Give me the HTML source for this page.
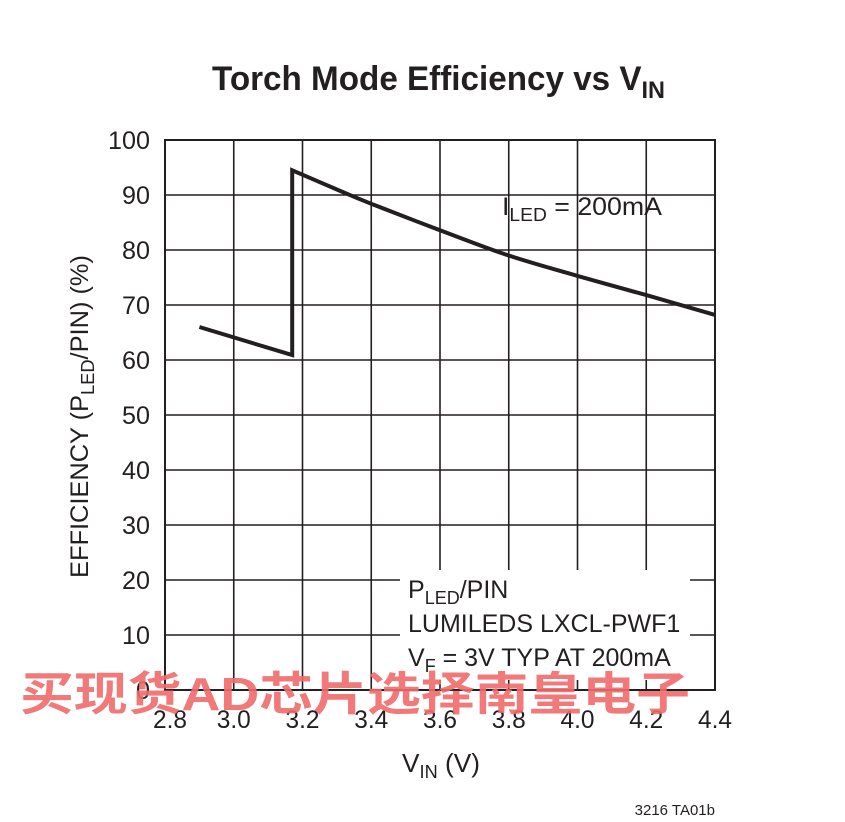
<!DOCTYPE html>
<html><head><meta charset="utf-8"><style>
html,body{margin:0;padding:0;background:#fff;}
svg{display:block;font-family:"Liberation Sans Narrow","Liberation Sans",sans-serif;}
</style></head><body>
<svg id="chart" width="845" height="822" viewBox="0 0 845 822">
<text x="212" y="90" font-size="34" font-weight="bold" fill="#231f20" textLength="453" lengthAdjust="spacingAndGlyphs">Torch Mode Efficiency vs V<tspan font-size="24" dy="8">IN</tspan></text>
<g id="grid"></g>
<rect x="400" y="570" width="290" height="110" fill="#fff"/>
<g id="ticks"></g>
<rect x="165" y="140" width="550" height="550" fill="none" stroke="#231f20" stroke-width="2"/>
<path id="series" fill="none" stroke="#231f20" stroke-width="4" stroke-linejoin="miter"/>
<text x="502" y="215" font-size="25" fill="#231f20" textLength="160" lengthAdjust="spacingAndGlyphs">I<tspan font-size="18" dy="6">LED</tspan><tspan dy="-6"> = 200mA</tspan></text>
<text x="408" y="598" font-size="25" fill="#231f20">P<tspan font-size="18" dy="6">LED</tspan><tspan dy="-6">/PIN</tspan></text>
<text x="408" y="632" font-size="25" fill="#231f20">LUMILEDS LXCL-PWF1</text>
<text x="408" y="666" font-size="25" fill="#231f20">V<tspan font-size="18" dy="6">F</tspan><tspan dy="-6"> = 3V TYP AT 200mA</tspan></text>
<text x="402" y="772" font-size="26" fill="#231f20" textLength="78" lengthAdjust="spacingAndGlyphs">V<tspan font-size="18" dy="6">IN</tspan><tspan dy="-6"> (V)</tspan></text>
<text transform="translate(88,578) rotate(-90)" font-size="25" fill="#231f20" textLength="323" lengthAdjust="spacingAndGlyphs">EFFICIENCY (P<tspan font-size="18" dy="6">LED</tspan><tspan dy="-6">/PIN) (%)</tspan></text>
<text x="715" y="815" text-anchor="end" font-size="15" fill="#231f20">3216 TA01b</text>
<text x="20" y="710" font-size="46" font-weight="bold" fill="#f06a6a" fill-opacity="0.9" textLength="670" lengthAdjust="spacingAndGlyphs" font-family="'Liberation Sans','Noto Sans CJK SC',sans-serif">买现货AD芯片选择南皇电子</text>
</svg>
<script>
const xTicks=[2.8,3.0,3.2,3.4,3.6,3.8,4.0,4.2,4.4];
const yTicks=[0,10,20,30,40,50,60,70,80,90,100];
const vin=[2.9,3.17,3.17,3.3,3.4,3.6,3.8,4.0,4.2,4.4];
const eff=[66,60.9,94.5,91,88.4,83.6,79,75.3,71.8,68.2];
const X0=165,X1=715,Y0=690,Y1=140;
function sx(v){return X0+(v-2.8)/(4.4-2.8)*(X1-X0);}
function sy(v){return Y0-(v/100)*(Y0-Y1);}
const ns="http://www.w3.org/2000/svg";
const grid=document.getElementById('grid'),ticks=document.getElementById('ticks');
xTicks.forEach((t,i)=>{
  const l=document.createElementNS(ns,'line');
  l.setAttribute('x1',sx(t));l.setAttribute('x2',sx(t));l.setAttribute('y1',Y1);l.setAttribute('y2',Y0);
  l.setAttribute('stroke','#231f20');l.setAttribute('stroke-width','1.6');
  
  
  grid.appendChild(l);
  const tx=document.createElementNS(ns,'text');
  const cx=sx(t)+(i===0?5:0);
  tx.setAttribute('x',cx-17);tx.setAttribute('y',Y0+38);
  tx.setAttribute('textLength','34');tx.setAttribute('lengthAdjust','spacingAndGlyphs');
  tx.setAttribute('font-size','25');tx.setAttribute('fill','#231f20');
  tx.textContent=t.toFixed(1);
  
  
  ticks.appendChild(tx);
});
yTicks.forEach(t=>{
  const l=document.createElementNS(ns,'line');
  l.setAttribute('x1',X0);l.setAttribute('x2',X1);l.setAttribute('y1',sy(t));l.setAttribute('y2',sy(t));
  l.setAttribute('stroke','#231f20');l.setAttribute('stroke-width','1.6');
  
  
  grid.appendChild(l);
  const tx=document.createElementNS(ns,'text');
  const s=String(t);
  const w=s.length*14;
  tx.setAttribute('x',X0-15-w);tx.setAttribute('y',sy(t)+9);
  tx.setAttribute('textLength',w);tx.setAttribute('lengthAdjust','spacingAndGlyphs');
  tx.setAttribute('font-size','25');tx.setAttribute('fill','#231f20');
  tx.textContent=s;
  
  
  ticks.appendChild(tx);
});
const P=vin.map((v,i)=>[sx(v),sy(eff[i])]);
let d='M'+P[0][0].toFixed(1)+','+P[0][1].toFixed(1)+'L'+P[1][0].toFixed(1)+','+P[1][1].toFixed(1)+'L'+P[2][0].toFixed(1)+','+P[2][1].toFixed(1);
for(let i=2;i<P.length-1;i++){
  const p0=P[Math.max(i-1,2)],p1=P[i],p2=P[i+1],p3=P[Math.min(i+2,P.length-1)];
  const c1=[p1[0]+(p2[0]-p0[0])/6,p1[1]+(p2[1]-p0[1])/6];
  const c2=[p2[0]-(p3[0]-p1[0])/6,p2[1]-(p3[1]-p1[1])/6];
  d+='C'+c1[0].toFixed(1)+','+c1[1].toFixed(1)+' '+c2[0].toFixed(1)+','+c2[1].toFixed(1)+' '+p2[0].toFixed(1)+','+p2[1].toFixed(1);
}
document.getElementById('series').setAttribute('d',d);
</script>
</body></html>
